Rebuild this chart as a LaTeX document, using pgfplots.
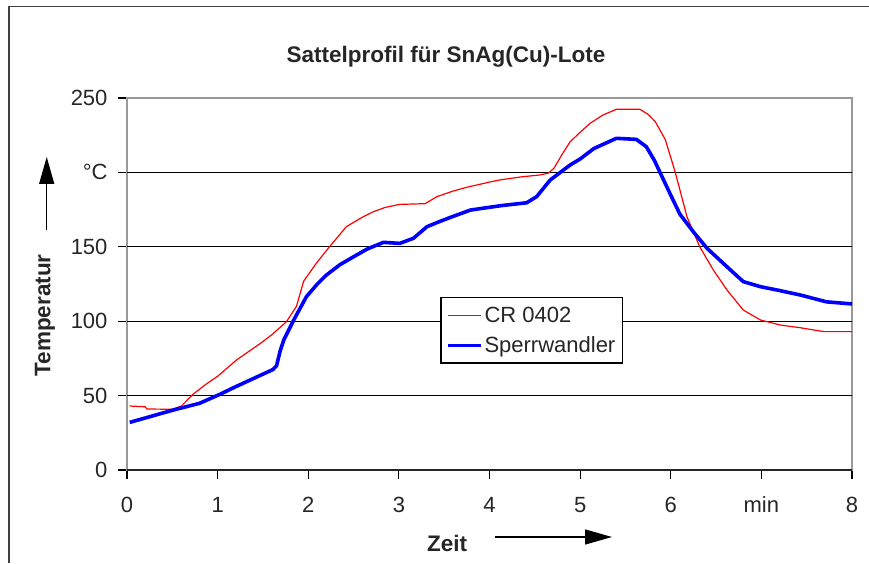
\documentclass[border=0pt]{standalone}
\usepackage{pgfplots}
\pgfplotsset{compat=1.18}
\usepackage{fontspec}
\setmainfont{Liberation Sans}
\usetikzlibrary{arrows.meta}
\begin{document}
\begin{tikzpicture}[x=1pt,y=1pt]
\useasboundingbox (0,0) rectangle (869,563);
\draw[line width=1.6pt, black!75] (9,0) -- (9,556.5) -- (869,556.5);
\begin{axis}[
  at={(127pt,93pt)}, anchor=south west,
  scale only axis, width=725pt, height=372pt,
  xmin=0, xmax=8, ymin=0, ymax=250,
  xtick={0,1,...,8}, xticklabels={0,1,2,3,4,5,6,min,8},
  ytick={0,50,...,250}, yticklabels={0,50,100,150,°C,250},
  tick pos=left, tick align=outside, major tick length=9pt,
  major tick style={black, line width=1.2pt},
  axis line style={black!40, line width=1.4pt},
  tick label style={font=\fontsize{22}{26}\selectfont, text=black!85},
  xticklabel style={yshift=-14pt, text height=16pt, text depth=0pt},
  yticklabel style={xshift=-7pt},
  /pgf/number format/assume math mode=true,
  legend style={at={(0.432,0.465)}, anchor=north west, draw=black, line width=1.4pt,
    fill=white, font=\fontsize{22}{26}\selectfont, inner xsep=5pt, inner ysep=7pt,
    row sep=9pt, text=black!85},
  legend cell align=left,
  legend image code/.code={\draw[#1] (0pt,0pt) -- (33pt,0pt);},
  clip=false,
]
\draw[black, line width=1.3pt] (axis cs:0,50) -- (axis cs:8,50);
\draw[black, line width=1.3pt] (axis cs:0,100) -- (axis cs:8,100);
\draw[black, line width=1.3pt] (axis cs:0,150) -- (axis cs:8,150);
\draw[black, line width=1.3pt] (axis cs:0,200) -- (axis cs:8,200);
\draw[black!85, line width=1.4pt] (axis cs:0,0) -- (axis cs:8,0);
\addplot[red, line width=1.2pt] coordinates {
(0.03,43)(0.2,42.5)(0.22,41)(0.5,40.8)(0.6,43)(0.73,51)(0.88,58)(1.0,63)(1.21,74)(1.47,85)(1.6,91)(1.76,99.7)(1.87,110)(1.95,127)(2.09,139)(2.22,149)(2.42,163.5)(2.6,170)(2.72,173.6)(2.85,176.5)(3.01,178.5)(3.29,179)(3.42,183.7)(3.6,187.5)(3.75,190)(4.0,193.5)(4.12,195)(4.35,197)(4.56,198.3)(4.65,199.5)(4.71,202.7)(4.8,212)(4.89,220.6)(5.0,227)(5.11,233)(5.25,238.5)(5.40,242.4)(5.66,242.4)(5.75,239)(5.83,234)(5.94,222)(6.05,200)(6.18,170)(6.32,150)(6.47,134.4)(6.62,121)(6.80,107.5)(6.99,100.8)(7.21,97.4)(7.43,95.6)(7.69,93)(8.0,93)
};
\addlegendentry{CR 0402}
\addplot[blue, line width=3.6pt] coordinates {
(0.03,32)(0.25,35.8)(0.51,40.3)(0.8,44.8)(1.03,51)(1.2,56)(1.36,60.5)(1.61,67.5)(1.65,70)(1.69,80)(1.73,87.4)(1.84,100.8)(1.98,116.5)(2.1,125)(2.20,131)(2.35,138)(2.50,143.3)(2.65,148.5)(2.83,153)(3.01,152.3)(3.16,155.7)(3.31,163.5)(3.45,167)(3.57,169.8)(3.79,174.7)(4.12,177.6)(4.41,179.6)(4.52,183.7)(4.67,194.9)(4.89,205)(5.0,209)(5.15,216)(5.40,222.9)(5.62,222.2)(5.73,217.3)(5.82,208)(5.92,195)(5.99,186)(6.10,172)(6.25,160)(6.40,149)(6.62,136.6)(6.80,126.6)(6.99,123.2)(7.17,121)(7.43,117.6)(7.72,113)(8.0,111.6)
};
\addlegendentry{Sperrwandler}
\end{axis}
\node[font=\fontsize{22.5}{27}\selectfont\bfseries, text=black!85] at (446,506) {Sattelprofil für SnAg(Cu)-Lote};
\node[font=\fontsize{22.5}{27}\selectfont\bfseries, text=black!85, rotate=90] at (45,247.5) {Temperatur};
\draw[line width=1.4pt, -{Triangle[length=27pt,width=15pt]}] (46.7,333) -- (46.7,406);
\node[font=\fontsize{22.5}{27}\selectfont\bfseries, text=black!85] at (447,20) {Zeit};
\draw[line width=1.4pt, -{Triangle[length=27pt,width=15pt]}] (495,26) -- (612,26);
\end{tikzpicture}
\end{document}
